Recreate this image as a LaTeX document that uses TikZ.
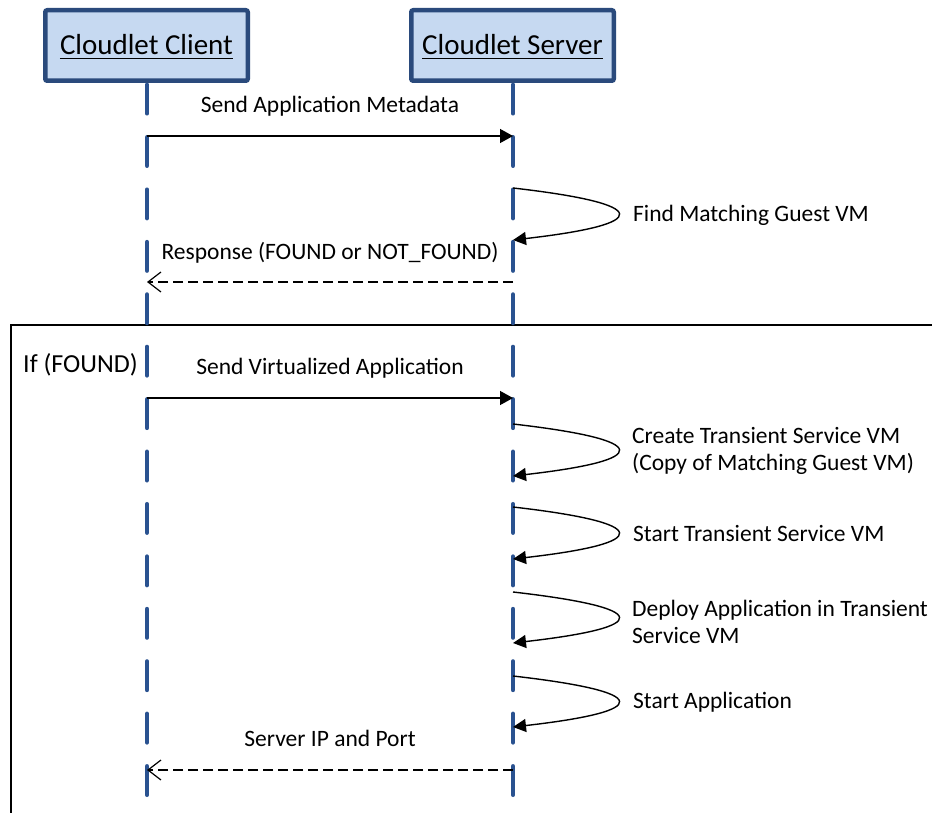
\documentclass[tikz,border=0pt]{standalone}
\usepackage{fontspec}
\setmainfont{Carlito}
\usetikzlibrary{arrows.meta}
\definecolor{lifeblue}{HTML}{2A5290}
\definecolor{boxline}{HTML}{2A4A7C}
\definecolor{boxfill}{HTML}{C6D9F1}
\tikzset{
  headbox/.style={draw=boxline, fill=boxfill, line width=4.5pt, rounded corners=2pt,
    minimum width=202.5pt, minimum height=70.5pt, inner sep=0pt},
  headtext/.style={font=\fontsize{29}{34}\selectfont, inner sep=0pt, anchor=base},
  uline/.style={line width=1.8pt},
  lifeline/.style={draw=lifeblue, line width=4.5pt, line cap=round,
    dash pattern=on 28.5pt off 23.92pt, dash phase=48.34pt},
  msg/.style={line width=1.4pt, -{Triangle[length=13pt,width=14pt]}},
  selfmsg/.style={line width=1.4pt, -{Triangle[length=13pt,width=13pt]}},
  reply/.style={line width=1.2pt, dash pattern=on 10pt off 5pt,
    -{Straight Barb[length=13pt,width=20pt,line width=1.2pt]}},
  lbl/.style={font=\fontsize{23.5}{27}\selectfont, inner sep=0pt, anchor=base},
  sidelbl/.style={font=\fontsize{23.5}{27}\selectfont, inner sep=0pt, anchor=base west},
  guardlbl/.style={font=\fontsize{26}{30}\selectfont, inner sep=0pt, anchor=base west},
  frameline/.style={line width=1.5pt, black},
}
\begin{document}
\begin{tikzpicture}[x=1pt, y=-1pt]
\clip (0,0) rectangle (932,813);
\fill[white] (0,0) rectangle (932,813);

% combined fragment frame
\coordinate (frameR) at (945,325);
\coordinate (frameTL) at (11,325);
\coordinate (frameB) at (11,830);
\draw[frameline] (frameR) -- (frameTL) -- (frameB);
\node[guardlbl] (iflbl) at (23,372) {If (FOUND)};

% lifelines
\coordinate (clienttop) at (147,80.75);
\coordinate (servertop) at (513,80.75);
\coordinate (clientend) at (147,813);
\coordinate (serverend) at (513,813);
\draw[lifeline] (clienttop) -- (clientend);
\draw[lifeline] (servertop) -- (serverend);

% lifeline heads
\node[headbox] (client) at (146.5,45.5) {};
\node[headbox] (server) at (512.5,45.5) {};
\node[headtext] (clienttxt) at (146.5,55) {Cloudlet Client};
\node[headtext] (servertxt) at (512.5,55) {Cloudlet Server};
\draw[uline] ([yshift=-3.5pt]clienttxt.base west) -- ([yshift=-3.5pt]clienttxt.base east);
\draw[uline] ([yshift=-3.5pt]servertxt.base west) -- ([yshift=-3.5pt]servertxt.base east);

% message 1
\coordinate (c1) at (147,136);
\coordinate (s1) at (513,136);
\draw[msg] (c1) -- (s1);
\node[lbl] (m1) at (330,113) {Send Application Metadata};

% self 1
\coordinate (s2a) at (513,188);
\coordinate (s2b) at (513,240);
\draw[selfmsg] (s2a) .. controls +(140,16) and +(140,-16) .. (s2b);
\node[sidelbl] (l2) at (633,222) {Find Matching Guest VM};

% reply 1
\coordinate (s3) at (513,282);
\coordinate (c3) at (147,282);
\draw[reply] (s3) -- (c3);
\node[lbl] (m3) at (330,259) {Response (FOUND or NOT\_FOUND)};

% message 2
\coordinate (c4) at (147,398);
\coordinate (s4) at (513,398);
\draw[msg] (c4) -- (s4);
\node[lbl] (m4) at (330,374) {Send Virtualized Application};

% self 2
\coordinate (s5a) at (513,424);
\coordinate (s5b) at (513,476);
\draw[selfmsg] (s5a) .. controls +(140,16) and +(140,-16) .. (s5b);
\node[sidelbl] (l5a) at (632,443) {Create Transient Service VM};
\node[sidelbl] (l5b) at (632,470) {(Copy of Matching Guest VM)};

% self 3
\coordinate (s6a) at (513,507);
\coordinate (s6b) at (513,559);
\draw[selfmsg] (s6a) .. controls +(140,16) and +(140,-16) .. (s6b);
\node[sidelbl] (l6) at (633,541) {Start Transient Service VM};

% self 4
\coordinate (s7a) at (513,592);
\coordinate (s7b) at (513,643);
\draw[selfmsg] (s7a) .. controls +(140,16) and +(140,-16) .. (s7b);
\node[sidelbl] (l7a) at (632,616) {Deploy Application in Transient};
\node[sidelbl] (l7b) at (632,643) {Service VM};

% self 5
\coordinate (s8a) at (513,676);
\coordinate (s8b) at (513,727);
\draw[selfmsg] (s8a) .. controls +(140,16) and +(140,-16) .. (s8b);
\node[sidelbl] (l8) at (633,708) {Start Application};

% reply 2
\coordinate (s9) at (513,770);
\coordinate (c9) at (147,770);
\draw[reply] (s9) -- (c9);
\node[lbl] (m9) at (330,746) {Server IP and Port};
\end{tikzpicture}
\end{document}
